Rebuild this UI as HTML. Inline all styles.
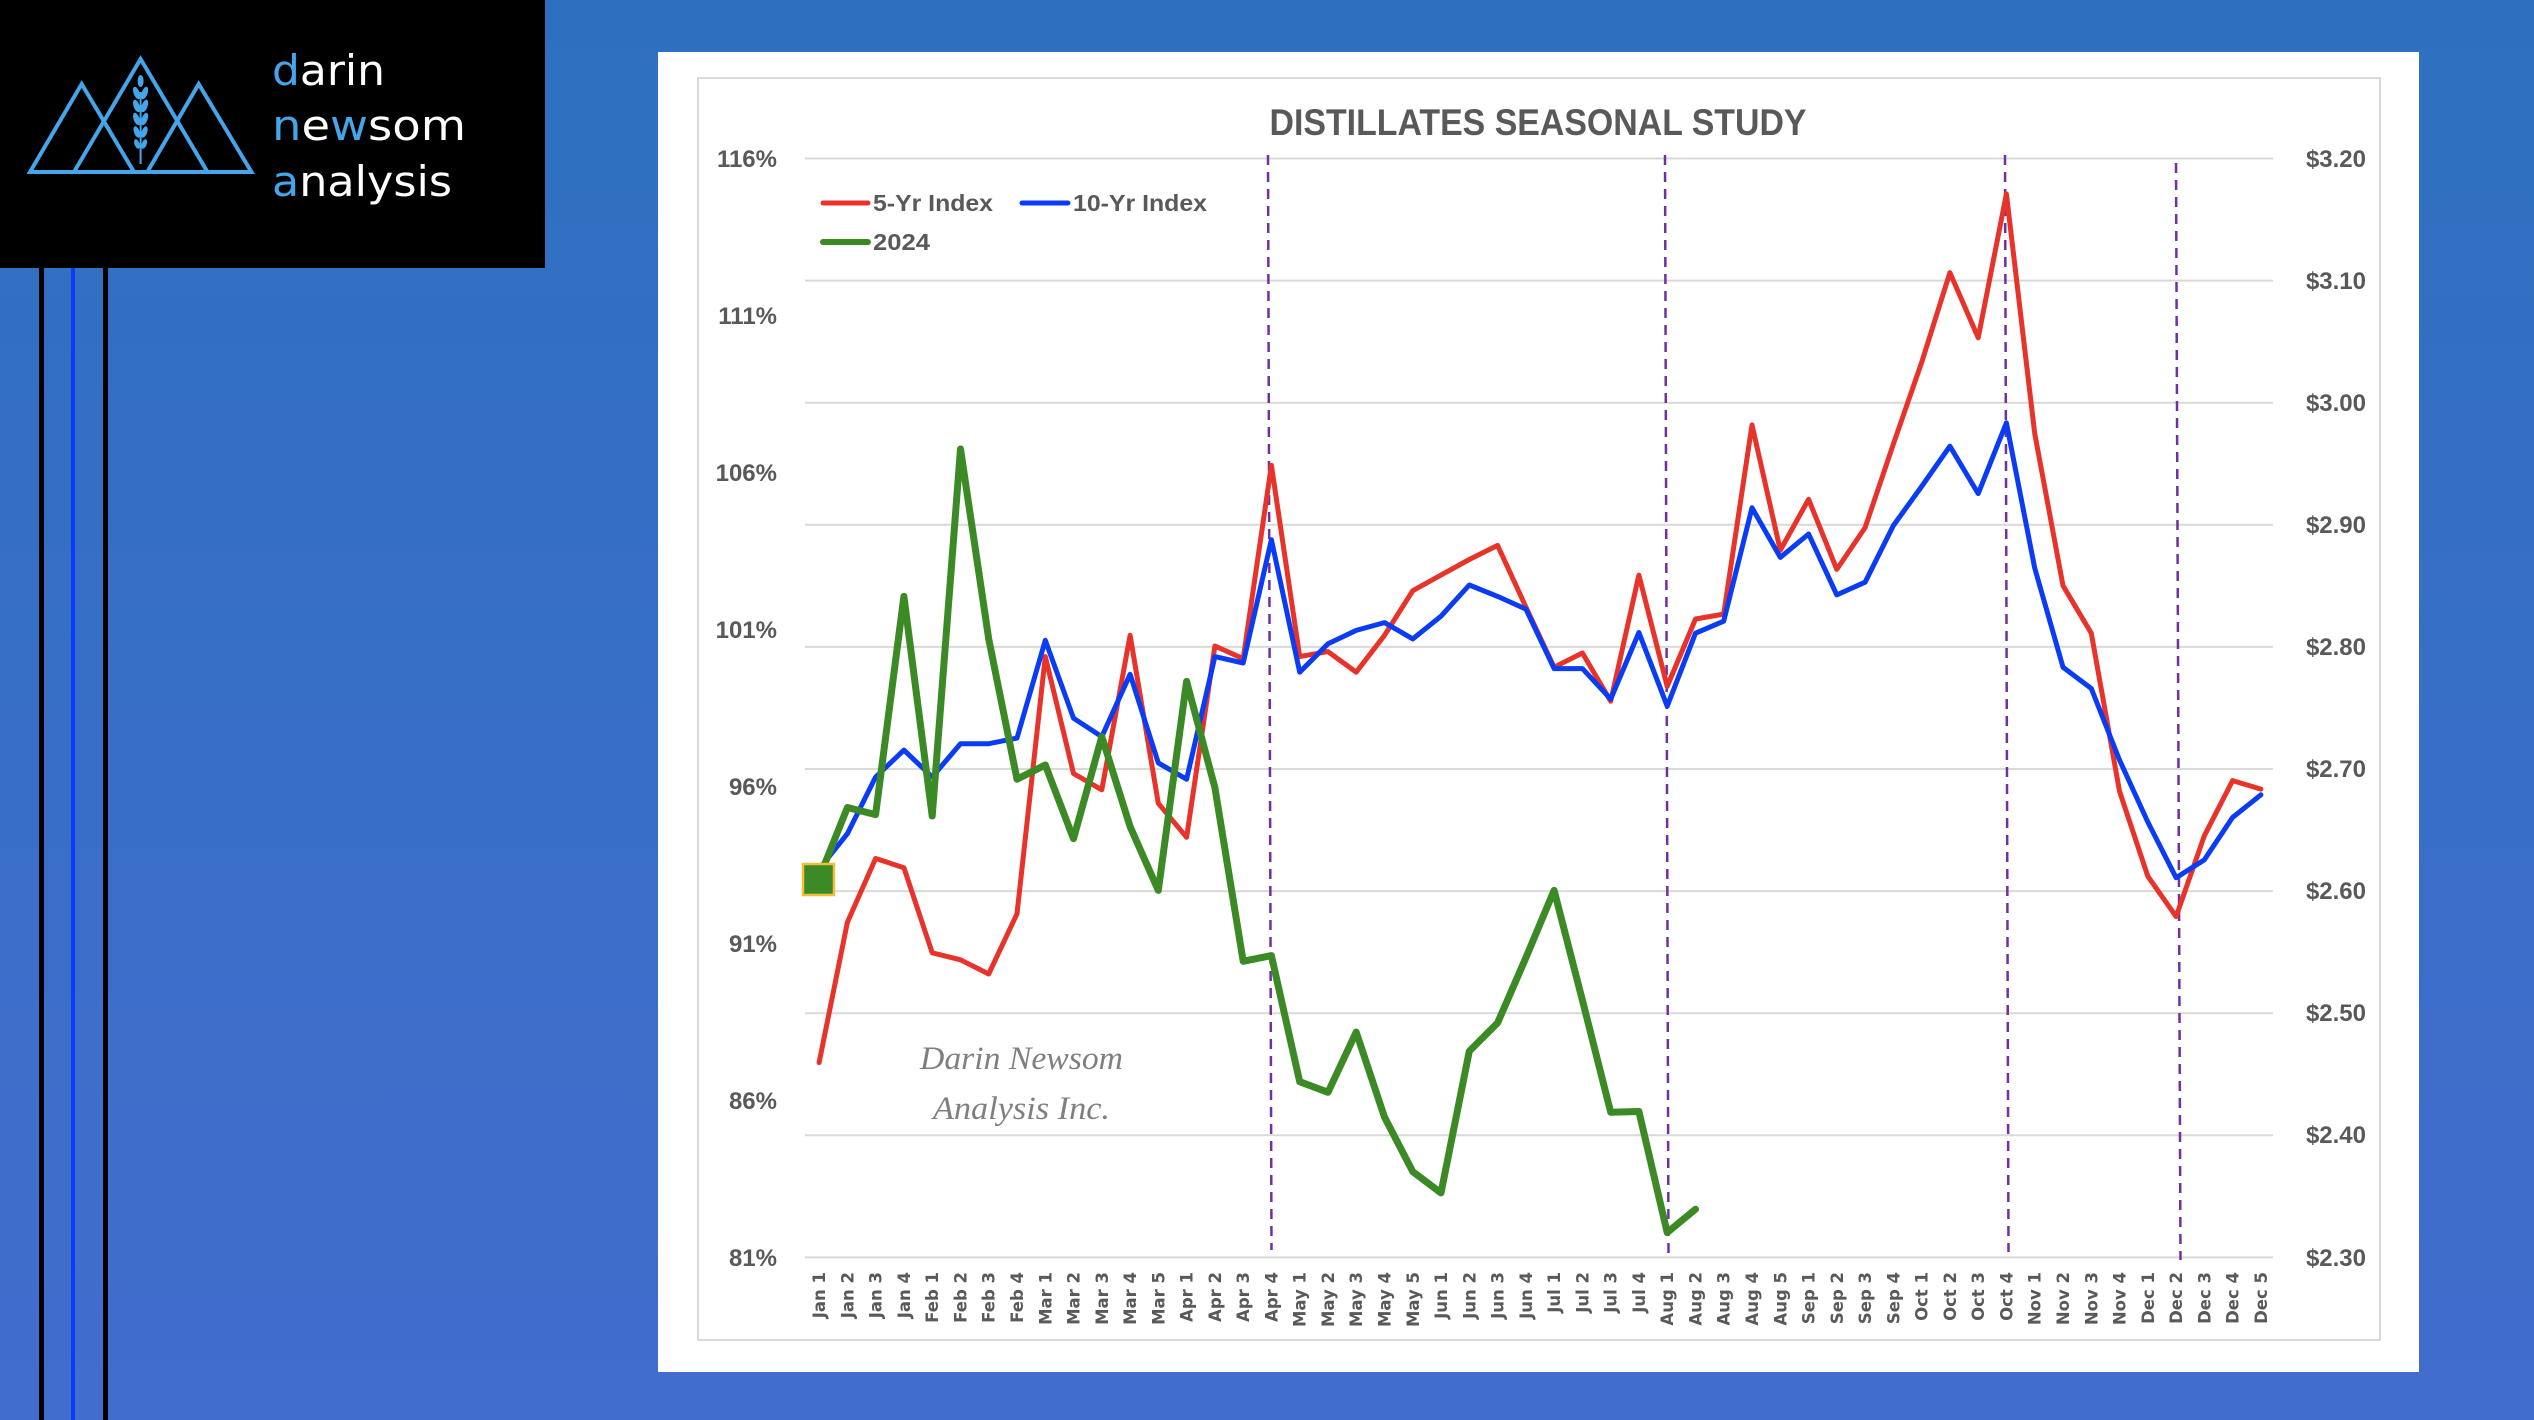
<!DOCTYPE html>
<html>
<head>
<meta charset="utf-8">
<style>
html,body{margin:0;padding:0;width:2534px;height:1420px;overflow:hidden;background:#3570c4;}
svg{display:block;}
</style>
</head>
<body>
<svg width="2534" height="1420" viewBox="0 0 2534 1420" xmlns="http://www.w3.org/2000/svg">
<defs>
<linearGradient id="bg" x1="0" y1="0" x2="0" y2="1">
<stop offset="0" stop-color="#2e70bf"/>
<stop offset="1" stop-color="#416dce"/>
</linearGradient>
</defs>
<rect x="0" y="0" width="2534" height="1420" fill="url(#bg)"/>

<!-- logo box -->
<rect x="0" y="0" width="545" height="268" fill="#000"/>
<rect x="39" y="268" width="5" height="1152" fill="#000"/>
<rect x="71" y="268" width="4" height="1152" fill="#0a3cf5"/>
<rect x="103" y="268" width="5" height="1152" fill="#000"/>
<g fill="none" stroke="#45a5ea" stroke-width="4" stroke-linejoin="miter">
<polygon points="81.7,84 30,172 134,172"/>
<polygon points="140.6,59 74,172 207.5,172"/>
<polygon points="198.7,84 147.3,172 251.5,172"/>
</g>
<g fill="#45a5ea">
<rect x="139.6" y="92" width="2" height="72"/>
<ellipse cx="140.6" cy="81" rx="3" ry="6"/>
<ellipse cx="136.6" cy="93" rx="3" ry="6.5" transform="rotate(-20 136.6 93)"/>
<ellipse cx="144.6" cy="93" rx="3" ry="6.5" transform="rotate(20 144.6 93)"/>
<ellipse cx="136.6" cy="106" rx="3" ry="6.5" transform="rotate(-20 136.6 106)"/>
<ellipse cx="144.6" cy="106" rx="3" ry="6.5" transform="rotate(20 144.6 106)"/>
<ellipse cx="136.6" cy="119" rx="3" ry="6.5" transform="rotate(-20 136.6 119)"/>
<ellipse cx="144.6" cy="119" rx="3" ry="6.5" transform="rotate(20 144.6 119)"/>
<ellipse cx="136.8" cy="132" rx="2.8" ry="6" transform="rotate(-20 136.8 132)"/>
<ellipse cx="144.4" cy="132" rx="2.8" ry="6" transform="rotate(20 144.4 132)"/>
<ellipse cx="137" cy="144" rx="2.5" ry="5" transform="rotate(-20 137 144)"/>
<ellipse cx="144.2" cy="144" rx="2.5" ry="5" transform="rotate(20 144.2 144)"/>
</g>
<g font-family="'DejaVu Sans','Liberation Sans',sans-serif" font-weight="normal" font-size="42" fill="#ffffff">
<text x="272" y="85" textLength="113" lengthAdjust="spacingAndGlyphs"><tspan fill="#45a5ea">d</tspan>arin</text>
<text x="272" y="140" textLength="194" lengthAdjust="spacingAndGlyphs"><tspan fill="#45a5ea">n</tspan>e<tspan fill="#45a5ea">w</tspan>som</text>
<text x="272" y="196" textLength="180" lengthAdjust="spacingAndGlyphs"><tspan fill="#45a5ea">a</tspan>nalysis</text>
</g>

<!-- chart panel -->
<rect x="658" y="52" width="1761" height="1320" fill="#ffffff"/>
<rect x="698" y="78" width="1682" height="1262" fill="none" stroke="#d9d9d9" stroke-width="2"/>

<!-- gridlines -->
<g stroke="#d9d9d9" stroke-width="2">
<line x1="805" y1="158.5" x2="2273" y2="158.5"/>
<line x1="805" y1="280.6" x2="2273" y2="280.6"/>
<line x1="805" y1="402.7" x2="2273" y2="402.7"/>
<line x1="805" y1="524.8" x2="2273" y2="524.8"/>
<line x1="805" y1="646.9" x2="2273" y2="646.9"/>
<line x1="805" y1="769" x2="2273" y2="769"/>
<line x1="805" y1="891.1" x2="2273" y2="891.1"/>
<line x1="805" y1="1013.2" x2="2273" y2="1013.2"/>
<line x1="805" y1="1135.3" x2="2273" y2="1135.3"/>
<line x1="805" y1="1257.4" x2="2273" y2="1257.4"/>
</g>

<!-- title -->
<text x="1538" y="135" text-anchor="middle" font-family="'Liberation Sans',sans-serif" font-weight="bold" font-size="37" fill="#595959" textLength="537" lengthAdjust="spacingAndGlyphs">DISTILLATES SEASONAL STUDY</text>

<!-- left axis labels -->
<g font-family="'Liberation Sans',sans-serif" font-weight="bold" font-size="24" fill="#595959" text-anchor="end">
<text x="777" y="167">116%</text>
<text x="777" y="324">111%</text>
<text x="777" y="481">106%</text>
<text x="777" y="638">101%</text>
<text x="777" y="795">96%</text>
<text x="777" y="952">91%</text>
<text x="777" y="1109">86%</text>
<text x="777" y="1266">81%</text>
</g>
<!-- right axis labels -->
<g font-family="'Liberation Sans',sans-serif" font-weight="bold" font-size="24" fill="#595959" text-anchor="end">
<text x="2366" y="167">$3.20</text>
<text x="2366" y="289">$3.10</text>
<text x="2366" y="411">$3.00</text>
<text x="2366" y="533">$2.90</text>
<text x="2366" y="655">$2.80</text>
<text x="2366" y="777">$2.70</text>
<text x="2366" y="899">$2.60</text>
<text x="2366" y="1021">$2.50</text>
<text x="2366" y="1143">$2.40</text>
<text x="2366" y="1266">$2.30</text>
</g>

<!-- dashed verticals -->
<g stroke="#7030a0" stroke-width="2.5" stroke-dasharray="10,7" fill="none">
<line x1="1268" y1="155" x2="1271.5" y2="1250"/>
<line x1="1665" y1="155" x2="1668.5" y2="1254"/>
<line x1="2005" y1="155" x2="2008.5" y2="1252"/>
<line x1="2176" y1="163" x2="2180.5" y2="1260"/>
</g>

<!-- watermark -->
<g font-family="'Liberation Serif',serif" font-style="italic" font-size="33" fill="#7f7f7f">
<text x="920" y="1069" textLength="203" lengthAdjust="spacingAndGlyphs">Darin Newsom</text>
<text x="933" y="1119" textLength="177" lengthAdjust="spacingAndGlyphs">Analysis Inc.</text>
</g>

<!-- series -->
<polyline fill="none" stroke="#e8332a" stroke-width="5" stroke-linejoin="round" stroke-linecap="round" points="819.1,1062.6 847.4,922.3 875.6,858.5 903.9,867.7 932.2,952.8 960.5,959.8 988.7,974 1017,913.8 1045.3,656.6 1073.5,773.5 1101.8,789.8 1130.1,635.3 1158.3,803.3 1186.6,837.3 1214.9,646 1243.2,658.7 1271.4,465.3 1299.7,656.6 1328,651.6 1356.2,672.2 1384.5,635.3 1412.8,590.7 1441,575.1 1469.3,559.5 1497.6,545.4 1525.9,607 1554.1,667.2 1582.4,653 1610.7,701.2 1638.9,575.1 1667.2,686.4 1695.5,619 1723.7,614.1 1752,424.9 1780.3,550.3 1808.6,499.3 1836.8,569.4 1865.1,527.6 1893.4,444 1921.6,362.6 1949.9,272.6 1978.2,337.8 2006.4,193.9 2034.7,433.4 2063,585.7 2091.3,633.2 2119.5,791.2 2147.8,876.2 2176.1,916.6 2204.3,835.8 2232.6,780.6 2260.9,789.1"/>
<polyline fill="none" stroke="#0a3cf5" stroke-width="5" stroke-linejoin="round" stroke-linecap="round" points="819.1,869.1 847.4,833.7 875.6,777 903.9,750.1 932.2,777 960.5,743.7 988.7,743.7 1017,738.1 1045.3,640.3 1073.5,718.2 1101.8,736.7 1130.1,674.3 1158.3,762.9 1186.6,779.2 1214.9,656.6 1243.2,663 1271.4,539.7 1299.7,672.2 1328,643.8 1356.2,630.4 1384.5,622.6 1412.8,638.9 1441,616.2 1469.3,585 1497.6,596.4 1525.9,609.1 1554.1,668.6 1582.4,668.6 1610.7,699.1 1638.9,632.5 1667.2,706.2 1695.5,633.2 1723.7,621.2 1752,507.8 1780.3,557.4 1808.6,534 1836.8,594.9 1865.1,582.2 1893.4,525.5 1921.6,486.5 1949.9,446.2 1978.2,493.6 2006.4,422.8 2034.7,568 2063,667.2 2091.3,688.5 2119.5,760 2147.8,822 2176.1,877.7 2204.3,859.9 2232.6,817.4 2260.9,794.8"/>
<polyline fill="none" stroke="#3c8a26" stroke-width="7" stroke-linejoin="round" stroke-linecap="round" points="819.1,878 847.4,807.5 875.6,814.6 903.9,596.4 932.2,816 960.5,449 988.7,638.9 1017,779.2 1045.3,765 1073.5,838.7 1101.8,736.7 1130.1,826.6 1158.3,890.4 1186.6,681.4 1214.9,787.7 1243.2,961.3 1271.4,955.6 1299.7,1081.7 1328,1092.3 1356.2,1032.1 1384.5,1117.1 1412.8,1171.7 1441,1192.9 1469.3,1051.2 1497.6,1022.9 1525.9,957.7 1554.1,890.4 1582.4,1000.2 1610.7,1112.2 1638.9,1111.5 1667.2,1232.6 1695.5,1209.2"/>
<rect x="803" y="864" width="31" height="31" fill="#3c8a26" stroke="#f2c037" stroke-width="2.5"/>

<!-- legend -->
<g stroke-linecap="round">
<line x1="823" y1="203" x2="868" y2="203" stroke="#e8332a" stroke-width="5"/>
<line x1="1022" y1="203" x2="1068" y2="203" stroke="#0a3cf5" stroke-width="5"/>
<line x1="823" y1="242" x2="868" y2="242" stroke="#3c8a26" stroke-width="6"/>
</g>
<g font-family="'Liberation Sans',sans-serif" font-weight="bold" font-size="23" fill="#595959">
<text x="873" y="211" textLength="120" lengthAdjust="spacingAndGlyphs">5-Yr Index</text>
<text x="1073" y="211" textLength="134" lengthAdjust="spacingAndGlyphs">10-Yr Index</text>
<text x="873" y="250" textLength="57" lengthAdjust="spacingAndGlyphs">2024</text>
</g>

<!-- x labels -->
<g font-family="'DejaVu Sans','Liberation Sans',sans-serif" font-weight="bold" font-size="16.5" fill="#595959" text-anchor="end">
<text transform="translate(819.1,1272) rotate(-90)" dy="0.36em">Jan 1</text>
<text transform="translate(847.4,1272) rotate(-90)" dy="0.36em">Jan 2</text>
<text transform="translate(875.6,1272) rotate(-90)" dy="0.36em">Jan 3</text>
<text transform="translate(903.9,1272) rotate(-90)" dy="0.36em">Jan 4</text>
<text transform="translate(932.2,1272) rotate(-90)" dy="0.36em">Feb 1</text>
<text transform="translate(960.5,1272) rotate(-90)" dy="0.36em">Feb 2</text>
<text transform="translate(988.7,1272) rotate(-90)" dy="0.36em">Feb 3</text>
<text transform="translate(1017,1272) rotate(-90)" dy="0.36em">Feb 4</text>
<text transform="translate(1045.3,1272) rotate(-90)" dy="0.36em">Mar 1</text>
<text transform="translate(1073.5,1272) rotate(-90)" dy="0.36em">Mar 2</text>
<text transform="translate(1101.8,1272) rotate(-90)" dy="0.36em">Mar 3</text>
<text transform="translate(1130.1,1272) rotate(-90)" dy="0.36em">Mar 4</text>
<text transform="translate(1158.3,1272) rotate(-90)" dy="0.36em">Mar 5</text>
<text transform="translate(1186.6,1272) rotate(-90)" dy="0.36em">Apr 1</text>
<text transform="translate(1214.9,1272) rotate(-90)" dy="0.36em">Apr 2</text>
<text transform="translate(1243.2,1272) rotate(-90)" dy="0.36em">Apr 3</text>
<text transform="translate(1271.4,1272) rotate(-90)" dy="0.36em">Apr 4</text>
<text transform="translate(1299.7,1272) rotate(-90)" dy="0.36em">May 1</text>
<text transform="translate(1328,1272) rotate(-90)" dy="0.36em">May 2</text>
<text transform="translate(1356.2,1272) rotate(-90)" dy="0.36em">May 3</text>
<text transform="translate(1384.5,1272) rotate(-90)" dy="0.36em">May 4</text>
<text transform="translate(1412.8,1272) rotate(-90)" dy="0.36em">May 5</text>
<text transform="translate(1441,1272) rotate(-90)" dy="0.36em">Jun 1</text>
<text transform="translate(1469.3,1272) rotate(-90)" dy="0.36em">Jun 2</text>
<text transform="translate(1497.6,1272) rotate(-90)" dy="0.36em">Jun 3</text>
<text transform="translate(1525.9,1272) rotate(-90)" dy="0.36em">Jun 4</text>
<text transform="translate(1554.1,1272) rotate(-90)" dy="0.36em">Jul 1</text>
<text transform="translate(1582.4,1272) rotate(-90)" dy="0.36em">Jul 2</text>
<text transform="translate(1610.7,1272) rotate(-90)" dy="0.36em">Jul 3</text>
<text transform="translate(1638.9,1272) rotate(-90)" dy="0.36em">Jul 4</text>
<text transform="translate(1667.2,1272) rotate(-90)" dy="0.36em">Aug 1</text>
<text transform="translate(1695.5,1272) rotate(-90)" dy="0.36em">Aug 2</text>
<text transform="translate(1723.7,1272) rotate(-90)" dy="0.36em">Aug 3</text>
<text transform="translate(1752,1272) rotate(-90)" dy="0.36em">Aug 4</text>
<text transform="translate(1780.3,1272) rotate(-90)" dy="0.36em">Aug 5</text>
<text transform="translate(1808.6,1272) rotate(-90)" dy="0.36em">Sep 1</text>
<text transform="translate(1836.8,1272) rotate(-90)" dy="0.36em">Sep 2</text>
<text transform="translate(1865.1,1272) rotate(-90)" dy="0.36em">Sep 3</text>
<text transform="translate(1893.4,1272) rotate(-90)" dy="0.36em">Sep 4</text>
<text transform="translate(1921.6,1272) rotate(-90)" dy="0.36em">Oct 1</text>
<text transform="translate(1949.9,1272) rotate(-90)" dy="0.36em">Oct 2</text>
<text transform="translate(1978.2,1272) rotate(-90)" dy="0.36em">Oct 3</text>
<text transform="translate(2006.4,1272) rotate(-90)" dy="0.36em">Oct 4</text>
<text transform="translate(2034.7,1272) rotate(-90)" dy="0.36em">Nov 1</text>
<text transform="translate(2063,1272) rotate(-90)" dy="0.36em">Nov 2</text>
<text transform="translate(2091.3,1272) rotate(-90)" dy="0.36em">Nov 3</text>
<text transform="translate(2119.5,1272) rotate(-90)" dy="0.36em">Nov 4</text>
<text transform="translate(2147.8,1272) rotate(-90)" dy="0.36em">Dec 1</text>
<text transform="translate(2176.1,1272) rotate(-90)" dy="0.36em">Dec 2</text>
<text transform="translate(2204.3,1272) rotate(-90)" dy="0.36em">Dec 3</text>
<text transform="translate(2232.6,1272) rotate(-90)" dy="0.36em">Dec 4</text>
<text transform="translate(2260.9,1272) rotate(-90)" dy="0.36em">Dec 5</text>
</g>
</svg>
</body>
</html>
